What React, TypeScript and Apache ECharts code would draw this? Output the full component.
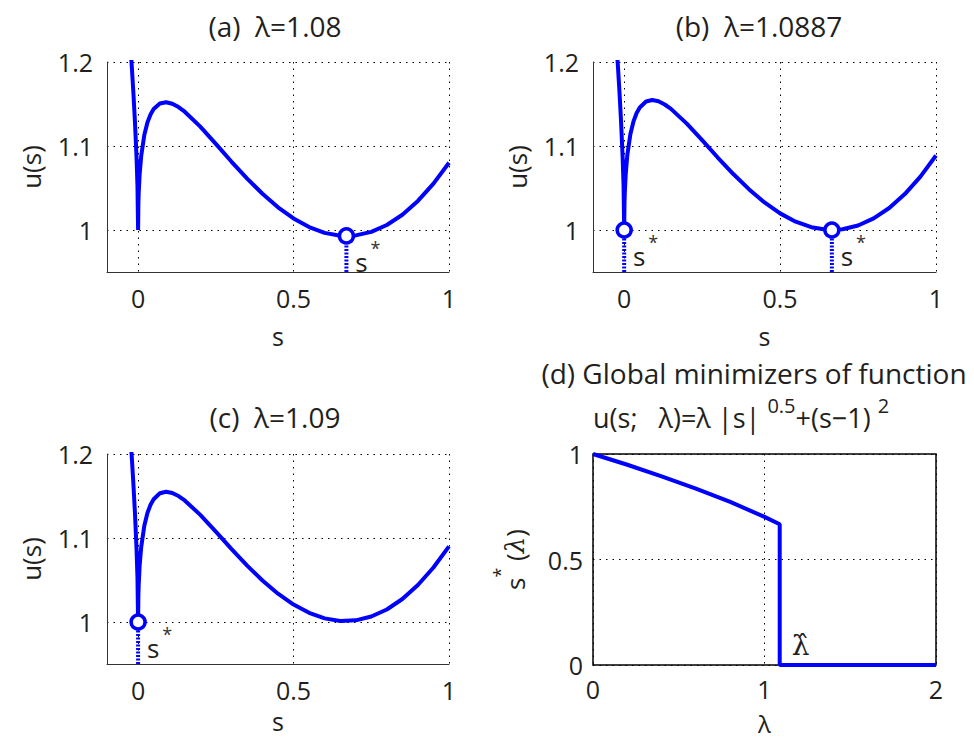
import React, { useEffect, useRef } from 'react';
import * as echarts from 'echarts';

// ---------- data ----------
const sGrid = [-0.025, -0.02, -0.015, -0.01, -0.005, -0.002, 0, 0.001, 0.002, 0.005, 0.01, 0.02, 0.03, 0.04, 0.05, 0.07, 0.09, 0.11, 0.13, 0.15, 0.2, 0.25, 0.3, 0.35, 0.4, 0.45, 0.5, 0.55, 0.6, 0.65, 0.7, 0.75, 0.8, 0.85, 0.9, 0.95, 1.0];
const uA = [1.2214, 1.1931, 1.1625, 1.1281, 1.0864, 1.0523, 1.0, 1.0322, 1.0443, 1.0664, 1.0881, 1.1131, 1.128, 1.1376, 1.144, 1.1506, 1.1521, 1.1503, 1.1463, 1.1408, 1.123, 1.1025, 1.0815, 1.0614, 1.0431, 1.027, 1.0137, 1.0035, 0.9966, 0.9932, 0.9936, 0.9978, 1.006, 1.0182, 1.0346, 1.0552, 1.08];
const uB = [1.2228, 1.1944, 1.1636, 1.129, 1.087, 1.0527, 1.0, 1.0324, 1.0447, 1.067, 1.089, 1.1144, 1.1295, 1.1393, 1.1459, 1.1529, 1.1547, 1.1532, 1.1494, 1.1442, 1.1269, 1.1069, 1.0863, 1.0666, 1.0486, 1.0328, 1.0198, 1.0099, 1.0033, 1.0002, 1.0009, 1.0053, 1.0138, 1.0262, 1.0428, 1.0636, 1.0887];
const uC = [1.223, 1.1946, 1.1637, 1.1291, 1.0871, 1.0528, 1.0, 1.0325, 1.0448, 1.0671, 1.0891, 1.1146, 1.1297, 1.1396, 1.1462, 1.1533, 1.1551, 1.1536, 1.1499, 1.1447, 1.1275, 1.1075, 1.087, 1.0674, 1.0494, 1.0337, 1.0208, 1.0109, 1.0043, 1.0013, 1.002, 1.0065, 1.0149, 1.0274, 1.0441, 1.0649, 1.09];
const lambdaD = [0, 0.2, 0.4, 0.6, 0.8, 1.0, 1.0887, 1.0887, 2];
const sStarD = [1, 0.949, 0.894, 0.836, 0.773, 0.702, 0.667, 0, 0];
const lambdaHat = 1.0887;
const minimizersA = [[0.67, 0.993]];
const minimizersB = [[0, 1], [0.666, 1.0]];
const minimizersC = [[0, 1]];
const sRange = [-0.1, 1];
const uRange = [0.95, 1.2];
const lambdaRange = [0, 2];
const sStarRange = [0, 1];
const sTicks = [0, 0.5, 1];
const uTicks = [1, 1.1, 1.2];
const lambdaTicks = [0, 1, 2];
const sStarTicks = [0, 0.5, 1];
const panelTitles = ['(a)  λ=1.08', '(b)  λ=1.0887', '(c)  λ=1.09'];
const titleD1 = '(d) Global minimizers of function';

const BLUE = '#0000ff';
const TXT = '#231f20';
const FONT = '"Open Sans", "Noto Sans", sans-serif';

function axisPair(gi: number, xr: number[], xt: number[], yr: number[], yt: number[], xName: string, xNameGap: number, yName: any, boxed: boolean, yNameRich?: any) {
  const grid = {
    color: '#000', type: [1.5, 5], width: 1,
  };
  const x = {
    type: 'value', gridIndex: gi, min: xr[0], max: xr[1],
    axisLine: { show: !boxed, onZero: false, lineStyle: { color: '#333', width: 1 } },
    axisTick: { show: false, customValues: xt },
    axisLabel: { customValues: xt, margin: boxed ? 13 : 15, fontSize: 25, lineHeight: 22, color: TXT, fontFamily: FONT },
    splitLine: { show: true, lineStyle: grid },
    name: xName, nameLocation: 'middle', nameGap: xNameGap,
    nameTextStyle: { fontSize: boxed ? 24 : 25, lineHeight: 22, color: TXT, fontFamily: FONT },
  };
  const y: any = {
    type: 'value', gridIndex: gi, min: yr[0], max: yr[1],
    axisLine: { show: !boxed, onZero: false, lineStyle: { color: '#333', width: 1 } },
    axisTick: { show: false, customValues: yt },
    axisLabel: { customValues: yt, margin: boxed ? 10 : 14, fontSize: 25, color: TXT, fontFamily: FONT },
    splitLine: { show: true, lineStyle: grid },
    name: yName, nameLocation: 'middle', nameGap: boxed ? 54 : 63,
    nameTextStyle: { fontSize: 26, color: TXT, fontFamily: FONT, rich: yNameRich },
  };
  return { x, y };
}

export default function App() {
  const ref = useRef<HTMLDivElement>(null);
  useEffect(() => {
    if (!ref.current) return;
    const chart = echarts.init(ref.current, null, { renderer: 'svg' });
    const pa = axisPair(0, sRange, sTicks, uRange, uTicks, 's', 53, 'u(s)', false);
    const pb = axisPair(1, sRange, sTicks, uRange, uTicks, 's', 53, 'u(s)', false);
    const pc = axisPair(2, sRange, sTicks, uRange, uTicks, 's', 46, 'u(s)', false);
    const pd = axisPair(3, lambdaRange, lambdaTicks, sStarRange, sStarTicks, 'λ', 47,
      '{s|s}{st|*} {p|(}{l|λ}{p|)}', true, {
        s: { fontSize: 26, fontFamily: FONT, color: TXT, lineHeight: 48 },
        st: { fontSize: 18, fontFamily: FONT, color: TXT, lineHeight: 18, verticalAlign: 'top' },
        p: { fontSize: 26, fontFamily: FONT, color: TXT, lineHeight: 48 },
        l: { fontSize: 26, fontFamily: '"DejaVu Serif", serif', fontStyle: 'italic', color: TXT, lineHeight: 48 },
      });

    const curves = [uA, uB, uC];
    const mins = [minimizersA, minimizersB, minimizersC];
    const series: any[] = [];
    curves.forEach((u, i) => {
      series.push({
        type: 'line', xAxisIndex: i, yAxisIndex: i, symbol: 'none', silent: true, z: 3,
        data: sGrid.map((s, k) => [s, u[k]]),
        lineStyle: { color: BLUE, width: 4 },
      });
      mins[i].forEach((m) => {
        series.push({
          type: 'line', xAxisIndex: i, yAxisIndex: i, symbol: 'none', silent: true, z: 2,
          data: [[m[0], uRange[0]], [m[0], m[1]]],
          lineStyle: { color: BLUE, width: 4, type: [2, 1.5] },
        });
      });
      series.push({
        type: 'scatter', xAxisIndex: i, yAxisIndex: i, silent: true, z: 4,
        data: mins[i], symbol: 'circle', symbolSize: 14,
        itemStyle: { color: '#ffffff', borderColor: BLUE, borderWidth: 3.5, opacity: 1 },
        label: { show: true, formatter: 's', position: 'inside', offset: [15, 26], fontSize: 26, color: TXT, opacity: 1, fontFamily: FONT },
      });
      series.push({
        type: 'scatter', xAxisIndex: i, yAxisIndex: i, silent: true, z: 4,
        data: mins[i], symbol: 'circle', symbolSize: 0,
        itemStyle: { color: 'transparent', opacity: 1 },
        label: { show: true, formatter: '*', position: 'inside', offset: [29, 12], fontSize: 18, color: '#333', opacity: 1, fontFamily: FONT },
      });
    });
    series.push({
      type: 'line', xAxisIndex: 3, yAxisIndex: 3, symbol: 'none', silent: true, z: 3,
      data: lambdaD.map((l, k) => [l, sStarD[k]]),
      lineStyle: { color: BLUE, width: 4 },
    });
    series.push({
      type: 'scatter', xAxisIndex: 3, yAxisIndex: 3, silent: true, z: 4,
      data: [[lambdaHat, 0]], symbol: 'circle', symbolSize: 0,
      itemStyle: { color: 'transparent', opacity: 1 },
      label: { show: true, formatter: 'λ\u0302', position: 'inside', offset: [21, -20], fontSize: 28, color: TXT, opacity: 1, fontFamily: '"DejaVu Serif", serif' },
    });

    const titleStyle = { fontSize: 28, fontFamily: FONT, fill: TXT, align: 'center', verticalAlign: 'middle' };
    chart.setOption({
      animation: false,
      backgroundColor: '#ffffff',
      grid: [
        { left: 107, top: 62, width: 342, height: 210, outerBoundsMode: 'none' },
        { left: 593, top: 62, width: 343, height: 210, outerBoundsMode: 'none' },
        { left: 107, top: 454, width: 342, height: 210, outerBoundsMode: 'none' },
        { left: 593, top: 454, width: 343, height: 211, outerBoundsMode: 'none', show: true, borderColor: '#000', borderWidth: 1.5, backgroundColor: 'transparent' },
      ],
      xAxis: [pa.x, pb.x, pc.x, pd.x],
      yAxis: [pa.y, pb.y, pc.y, pd.y],
      series,
      graphic: [
        { type: 'text', x: 275, y: 26, style: { ...titleStyle, text: panelTitles[0] } },
        { type: 'text', x: 759, y: 26, style: { ...titleStyle, text: panelTitles[1] } },
        { type: 'text', x: 275, y: 417, style: { ...titleStyle, text: panelTitles[2] } },
        { type: 'text', x: 754, y: 373, style: { ...titleStyle, text: titleD1 } },
        {
          type: 'text', x: 593, y: 417,
          style: {
            text: '{m|u(s;   λ)=λ |s| }{p|0.5}{m|+(s−1) }{p|2}',
            fontSize: 27, fontFamily: FONT, fill: TXT, align: 'left', verticalAlign: 'middle',
            rich: {
              m: { fontSize: 27, fontFamily: FONT, fill: TXT, lineHeight: 44 },
              p: { fontSize: 20, fontFamily: FONT, fill: TXT, lineHeight: 20, verticalAlign: 'top' },
            },
          },
        },
      ],
    });
    return () => chart.dispose();
  }, []);
  return <div ref={ref} style={{ position: 'absolute', left: 0, top: 0, width: 974, height: 738 }} />;
}
